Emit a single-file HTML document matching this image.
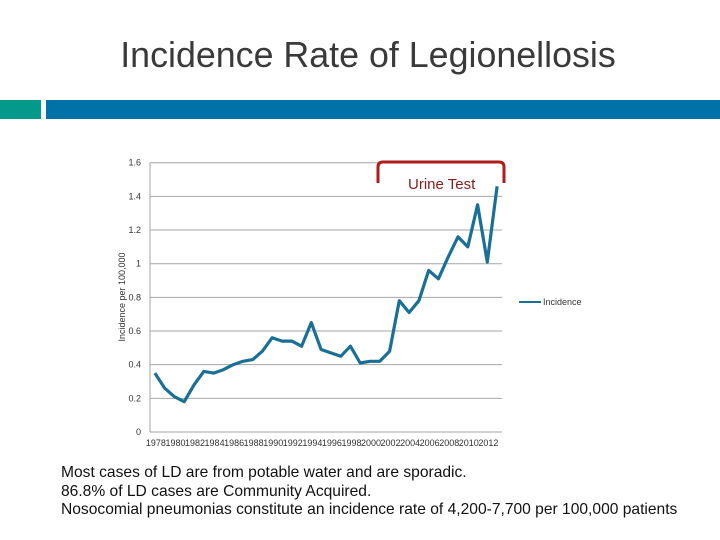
<!DOCTYPE html>
<html><head><meta charset="utf-8"><style>
body{margin:0;width:720px;height:540px;overflow:hidden;background:#fff;font-family:"Liberation Sans",sans-serif;position:relative}
.abs{position:absolute}
</style></head><body>
<div class="abs" style="left:0;width:736px;top:35px;text-align:center;font-size:35.8px;color:#3a3a3a">Incidence Rate of Legionellosis</div>
<div class="abs" style="left:0;top:100px;width:41px;height:19px;background:#05998c"></div>
<div class="abs" style="left:46px;top:100px;width:674px;height:19px;background:#0072a8"></div>
<svg class="abs" style="left:0;top:0" width="720" height="540">
<g id="grid"></g><g id="ylab"></g><g id="xlab"></g>
<path id="line" fill="none" stroke="#1a6f96" stroke-width="3.2" stroke-linejoin="round"/>
<text transform="translate(125,297) rotate(-90)" text-anchor="middle" font-size="9" fill="#333">Incidence per 100,000</text>
<line x1="519" y1="302" x2="541" y2="302" stroke="#1a6f96" stroke-width="2"/>
<text x="543" y="305" font-size="9" fill="#333">Incidence</text>
<path d="M378 183 V167 Q378 162 383 162 H499 Q504 162 504 167 V183" fill="none" stroke="#b01c1c" stroke-width="3"/>
<text x="408" y="189" font-size="15" fill="#8b1a1a">Urine Test</text>
</svg>
<div class="abs" style="left:61px;top:464px;font-size:15.6px;line-height:18.7px;color:#111">Most cases of LD are from potable water and are sporadic.<br>86.8% of LD cases are Community Acquired.<br>Nosocomial pneumonias constitute an incidence rate of 4,200-7,700 per 100,000 patients</div>
<script>
const years=[1978,1979,1980,1981,1982,1983,1984,1985,1986,1987,1988,1989,1990,1991,1992,1993,1994,1995,1996,1997,1998,1999,2000,2001,2002,2003,2004,2005,2006,2007,2008,2009,2010,2011,2012,2013];
const incidence=[0.35,0.26,0.21,0.18,0.28,0.36,0.35,0.37,0.40,0.42,0.43,0.48,0.56,0.54,0.54,0.51,0.65,0.49,0.47,0.45,0.51,0.41,0.42,0.42,0.48,0.78,0.71,0.78,0.96,0.91,1.04,1.16,1.10,1.35,1.01,1.46];
const yTicks=[0,0.2,0.4,0.6,0.8,1,1.2,1.4,1.6];
const yTickLabels=["0","0.2","0.4","0.6","0.8","1","1.2","1.4","1.6"];
const xTickLabels=["1978","1980","1982","1984","1986","1988","1990","1992","1994","1996","1998","2000","2002","2004","2006","2008","2010","2012"];
const NS="http://www.w3.org/2000/svg";
const X0=150,X1=502,Y0=432,Y1=162.7,YMAX=1.6;
const step=(X1-X0)/years.length;
const xs=i=>X0+step*(i+0.5);
const ys=v=>Y0-(v/YMAX)*(Y0-Y1);
const g=document.getElementById('grid'),yl=document.getElementById('ylab'),xl=document.getElementById('xlab');
yTicks.forEach((t,i)=>{
 const l=document.createElementNS(NS,'line');
 l.setAttribute('x1',X0);l.setAttribute('x2',X1);l.setAttribute('y1',ys(t));l.setAttribute('y2',ys(t));
 l.setAttribute('stroke','#a6a6a6');l.setAttribute('stroke-width','1');
 
 
 g.appendChild(l);
 const tx=document.createElementNS(NS,'text');
 tx.setAttribute('x',141);tx.setAttribute('y',ys(t)+3);tx.setAttribute('text-anchor','end');
 tx.setAttribute('font-size','9');tx.setAttribute('fill','#333');tx.textContent=yTickLabels[i];
 
 
 yl.appendChild(tx);
});
const ax=document.createElementNS(NS,'line');
ax.setAttribute('x1',X0);ax.setAttribute('x2',X0);ax.setAttribute('y1',Y1);ax.setAttribute('y2',Y0);ax.setAttribute('stroke','#a6a6a6');


g.appendChild(ax);
xTickLabels.forEach((lab)=>{
 const i=years.indexOf(+lab);
 const tx=document.createElementNS(NS,'text');
 tx.setAttribute('x',xs(i)-9);tx.setAttribute('y',446);tx.setAttribute('font-size','9');tx.setAttribute('fill','#333');
 tx.textContent=lab;
 
 
 xl.appendChild(tx);
});
document.getElementById('line').setAttribute('d',incidence.map((v,i)=>(i?'L':'M')+xs(i).toFixed(1)+' '+ys(v).toFixed(1)).join(' '));
</script>
</body></html>
